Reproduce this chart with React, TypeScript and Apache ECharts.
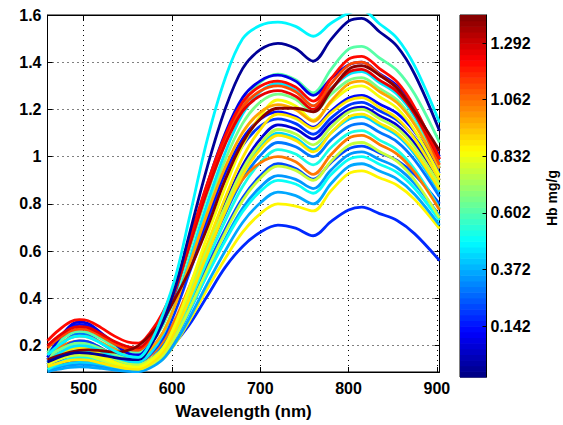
import React, { useEffect, useRef } from 'react';
import * as echarts from 'echarts';

const WAVELENGTHS = [459, 470, 485, 495, 505, 520, 535, 550, 562, 575, 590, 605, 620, 640, 660, 680, 700, 720, 740, 760, 780, 800, 815, 835, 855, 875, 903];

const S_A = [0.16, 0.196, 0.232, 0.24, 0.236, 0.209, 0.177, 0.155, 0.15, 0.207, 0.335, 0.505, 0.746, 1.073, 1.329, 1.499, 1.556, 1.57, 1.552, 1.51, 1.565, 1.608, 1.62, 1.563, 1.501, 1.383, 1.145];
const S_B = [0.13, 0.148, 0.166, 0.17, 0.168, 0.16, 0.149, 0.142, 0.14, 0.194, 0.301, 0.462, 0.676, 0.957, 1.199, 1.373, 1.453, 1.48, 1.458, 1.405, 1.496, 1.574, 1.586, 1.529, 1.467, 1.348, 1.11];
const S_C = [0.17, 0.21, 0.251, 0.26, 0.255, 0.228, 0.197, 0.175, 0.17, 0.205, 0.288, 0.43, 0.607, 0.843, 1.055, 1.22, 1.315, 1.35, 1.326, 1.27, 1.369, 1.455, 1.467, 1.418, 1.365, 1.264, 1.06];
const S_D = [0.22, 0.26, 0.301, 0.31, 0.305, 0.275, 0.24, 0.215, 0.21, 0.254, 0.343, 0.476, 0.654, 0.887, 1.087, 1.231, 1.298, 1.32, 1.295, 1.235, 1.33, 1.413, 1.425, 1.373, 1.316, 1.208, 0.99];
const S_E = [0.19, 0.226, 0.262, 0.27, 0.266, 0.239, 0.207, 0.185, 0.18, 0.225, 0.314, 0.449, 0.628, 0.863, 1.065, 1.21, 1.278, 1.3, 1.275, 1.215, 1.308, 1.388, 1.4, 1.348, 1.291, 1.183, 0.965];
const S_F = [0.14, 0.155, 0.172, 0.18, 0.182, 0.178, 0.172, 0.18, 0.2, 0.245, 0.31, 0.41, 0.52, 0.7, 0.9, 1.06, 1.16, 1.205, 1.205, 1.19, 1.28, 1.37, 1.385, 1.345, 1.29, 1.19, 1.025];
const S_G = [0.13, 0.162, 0.193, 0.2, 0.197, 0.176, 0.151, 0.134, 0.13, 0.165, 0.248, 0.39, 0.567, 0.803, 1.015, 1.18, 1.275, 1.31, 1.282, 1.215, 1.288, 1.348, 1.36, 1.314, 1.264, 1.168, 0.975];
const S_H = [0.15, 0.177, 0.204, 0.21, 0.206, 0.186, 0.161, 0.144, 0.14, 0.174, 0.253, 0.388, 0.556, 0.781, 0.984, 1.141, 1.231, 1.265, 1.243, 1.19, 1.263, 1.323, 1.335, 1.289, 1.24, 1.145, 0.955];
const S_I = [0.12, 0.143, 0.165, 0.17, 0.167, 0.149, 0.128, 0.113, 0.11, 0.133, 0.189, 0.302, 0.449, 0.664, 0.867, 1.048, 1.172, 1.24, 1.215, 1.155, 1.228, 1.288, 1.3, 1.254, 1.205, 1.11, 0.92];
const S_J = [0.14, 0.208, 0.275, 0.29, 0.283, 0.241, 0.192, 0.157, 0.15, 0.181, 0.254, 0.379, 0.535, 0.743, 0.93, 1.076, 1.159, 1.19, 1.17, 1.125, 1.193, 1.248, 1.26, 1.223, 1.183, 1.105, 0.95];
const S_K = [0.12, 0.165, 0.21, 0.22, 0.216, 0.189, 0.157, 0.135, 0.13, 0.161, 0.233, 0.357, 0.511, 0.717, 0.902, 1.047, 1.129, 1.16, 1.14, 1.095, 1.163, 1.218, 1.23, 1.194, 1.155, 1.08, 0.93];
const S_L = [0.11, 0.124, 0.137, 0.14, 0.139, 0.133, 0.126, 0.121, 0.12, 0.14, 0.191, 0.293, 0.425, 0.617, 0.8, 0.962, 1.074, 1.135, 1.117, 1.075, 1.143, 1.198, 1.21, 1.173, 1.133, 1.055, 0.9];
const S_M = [0.16, 0.178, 0.196, 0.2, 0.196, 0.172, 0.144, 0.124, 0.12, 0.14, 0.19, 0.289, 0.419, 0.608, 0.787, 0.946, 1.055, 1.115, 1.096, 1.05, 1.125, 1.188, 1.2, 1.162, 1.12, 1.04, 0.88];
const S_N = [0.1, 0.114, 0.127, 0.13, 0.129, 0.12, 0.11, 0.102, 0.1, 0.12, 0.17, 0.27, 0.4, 0.59, 0.77, 0.93, 1.04, 1.1, 1.079, 1.03, 1.1, 1.158, 1.17, 1.132, 1.09, 1.01, 0.85];
const S_O = [0.14, 0.163, 0.185, 0.19, 0.186, 0.16, 0.13, 0.109, 0.105, 0.125, 0.174, 0.272, 0.401, 0.588, 0.765, 0.923, 1.031, 1.09, 1.069, 1.02, 1.1, 1.168, 1.18, 1.142, 1.1, 1.02, 0.86];
const S_P = [0.13, 0.184, 0.238, 0.25, 0.245, 0.211, 0.173, 0.146, 0.14, 0.158, 0.204, 0.296, 0.416, 0.591, 0.756, 0.904, 1.005, 1.06, 1.042, 1.0, 1.07, 1.128, 1.14, 1.103, 1.063, 0.985, 0.83];
const S_Q = [0.16, 0.187, 0.214, 0.22, 0.216, 0.189, 0.157, 0.135, 0.13, 0.156, 0.217, 0.321, 0.452, 0.626, 0.783, 0.904, 0.974, 1.0, 0.978, 0.925, 1.008, 1.078, 1.09, 1.052, 1.011, 0.933, 0.775];
const S_R = [0.12, 0.138, 0.156, 0.16, 0.157, 0.139, 0.118, 0.103, 0.1, 0.117, 0.16, 0.246, 0.358, 0.521, 0.676, 0.814, 0.908, 0.96, 0.942, 0.9, 0.98, 1.048, 1.06, 1.022, 0.98, 0.9, 0.74];
const S_S = [0.11, 0.133, 0.155, 0.16, 0.158, 0.146, 0.132, 0.122, 0.12, 0.137, 0.18, 0.265, 0.375, 0.537, 0.69, 0.826, 0.919, 0.97, 0.95, 0.905, 0.975, 1.033, 1.045, 1.016, 0.984, 0.923, 0.8];
const S_T = [0.1, 0.109, 0.118, 0.12, 0.119, 0.113, 0.106, 0.101, 0.1, 0.116, 0.157, 0.239, 0.346, 0.502, 0.649, 0.781, 0.871, 0.92, 0.904, 0.865, 0.943, 1.008, 1.02, 0.988, 0.953, 0.885, 0.75];
const S_U = [0.12, 0.147, 0.174, 0.18, 0.177, 0.157, 0.134, 0.118, 0.115, 0.131, 0.17, 0.248, 0.351, 0.5, 0.641, 0.767, 0.853, 0.9, 0.884, 0.845, 0.923, 0.988, 1.0, 0.968, 0.933, 0.865, 0.73];
const S_V = [0.09, 0.099, 0.108, 0.11, 0.109, 0.103, 0.096, 0.091, 0.09, 0.105, 0.143, 0.219, 0.318, 0.462, 0.599, 0.721, 0.804, 0.85, 0.835, 0.8, 0.885, 0.958, 0.97, 0.939, 0.905, 0.84, 0.71];
const S_W = [0.13, 0.144, 0.157, 0.16, 0.157, 0.137, 0.114, 0.098, 0.095, 0.109, 0.144, 0.215, 0.307, 0.44, 0.567, 0.68, 0.758, 0.8, 0.791, 0.77, 0.855, 0.928, 0.94, 0.911, 0.879, 0.818, 0.695];
const S_X = [0.11, 0.124, 0.137, 0.14, 0.139, 0.13, 0.12, 0.112, 0.11, 0.122, 0.146, 0.218, 0.29, 0.41, 0.53, 0.62, 0.68, 0.71, 0.697, 0.665, 0.725, 0.774, 0.786, 0.759, 0.73, 0.673, 0.56];
const S_Y = [0.15, 0.218, 0.285, 0.3, 0.293, 0.253, 0.209, 0.167, 0.16, 0.207, 0.302, 0.444, 0.634, 0.883, 1.096, 1.25, 1.321, 1.345, 1.32, 1.26, 1.33, 1.388, 1.4, 1.352, 1.3, 1.2, 1.0];
const S_Z = [0.2, 0.236, 0.272, 0.28, 0.276, 0.249, 0.217, 0.195, 0.19, 0.234, 0.321, 0.452, 0.626, 0.855, 1.051, 1.193, 1.258, 1.28, 1.256, 1.2, 1.285, 1.358, 1.37, 1.324, 1.275, 1.18, 0.99];
const S_AA = [0.17, 0.202, 0.233, 0.24, 0.236, 0.213, 0.184, 0.159, 0.15, 0.182, 0.257, 0.385, 0.546, 0.76, 0.953, 1.102, 1.188, 1.22, 1.199, 1.15, 1.235, 1.308, 1.32, 1.276, 1.228, 1.135, 0.95];
const S_AB = [0.1, 0.122, 0.145, 0.15, 0.148, 0.136, 0.123, 0.113, 0.11, 0.128, 0.174, 0.266, 0.386, 0.561, 0.726, 0.874, 0.975, 1.03, 1.011, 0.965, 1.038, 1.098, 1.11, 1.07, 1.028, 0.945, 0.78];
const S_AC = [0.11, 0.124, 0.137, 0.14, 0.138, 0.126, 0.112, 0.102, 0.1, 0.122, 0.176, 0.284, 0.424, 0.629, 0.824, 0.996, 1.115, 1.18, 1.162, 1.12, 1.185, 1.238, 1.25, 1.208, 1.163, 1.075, 0.9];

// drawing order (later = on top) and Hb value of each spectrum
const SPECTRA = [S_X, S_W, S_V, S_T, S_N, S_L, S_S, S_P, S_AB, S_U, S_R, S_Q, S_K, S_J, S_AC, S_M, S_O, S_I, S_H, S_G, S_AA, S_C, S_Y, S_E, S_Z, S_D, S_F, S_B, S_A];
const HB_VALUES = [0.17, 0.86, 0.36, 0.34, 0.42, 0.05, 0.22, 0.30, 0.53, 0.50, 0.78, 1.04, 0.20, 0.12, 0.90, 0.76, 0.88, 0.85, 0.66, 0.45, 0.98, 0.62, 0.08, 1.12, 1.26, 1.22, 1.40, -0.03, 0.48];

const X_TICKS = [500, 600, 700, 800, 900];
const Y_TICKS = [0.2, 0.4, 0.6, 0.8, 1.0, 1.2, 1.4, 1.6];
const CB_TICKS = [0.142, 0.372, 0.602, 0.832, 1.062, 1.292];
const CB_MIN = -0.065;
const CB_MAX = 1.406;
const CB_LEVELS = 64;

const FONT = "'Liberation Sans', Arial, Helvetica, sans-serif";

function jet(t: number): string {
  const c = (v: number) => Math.round(255 * Math.max(0, Math.min(1, v)));
  const r = c(1.5 - Math.abs(4 * t - 3));
  const g = c(1.5 - Math.abs(4 * t - 2));
  const b = c(1.5 - Math.abs(4 * t - 1));
  return `rgb(${r},${g},${b})`;
}

function hbColor(hb: number): string {
  const t = (hb - CB_MIN) / (CB_MAX - CB_MIN);
  const idx = Math.max(0, Math.min(CB_LEVELS - 1, Math.floor(t * CB_LEVELS)));
  return jet((idx + 0.5) / CB_LEVELS);
}

export default function App() {
  const ref = useRef<HTMLDivElement>(null);
  useEffect(() => {
    if (!ref.current) return;
    const chart = echarts.init(ref.current, null, { renderer: 'svg' });
    const tickFont = { color: '#000', fontSize: 16, fontWeight: 'bold' as const, fontFamily: FONT };
    const dotted = { show: true, lineStyle: { color: '#000', type: [1, 4] as any, width: 1 } };
    const black = { color: '#000', width: 1 };

    const lineSeries = SPECTRA.map((vals, k) => ({
      type: 'line',
      xAxisIndex: 0,
      yAxisIndex: 0,
      data: WAVELENGTHS.map((w, i) => [w, vals[i]]),
      smooth: 0.35,
      showSymbol: false,
      symbol: 'none',
      silent: true,
      lineStyle: { width: 2.8, color: hbColor(HB_VALUES[k]) },
      z: 3,
    }));

    const step = (CB_MAX - CB_MIN) / CB_LEVELS;
    const bands = Array.from({ length: CB_LEVELS }, (_, i) => [0, CB_MIN + i * step, i]);

    const option: any = {
      animation: false,
      backgroundColor: '#fff',
      grid: [
        { left: 47.5, top: 15, width: 392, height: 359, show: true, borderColor: '#000', borderWidth: 1, backgroundColor: 'rgba(0,0,0,0)' },
        { left: 460, top: 15, width: 26.5, height: 362, show: true, borderColor: '#000', borderWidth: 1, backgroundColor: 'rgba(0,0,0,0)' },
      ],
      xAxis: [
        {
          type: 'value', gridIndex: 0, min: 459, max: 903, position: 'bottom',
          axisLine: { show: true, onZero: false, lineStyle: black },
          axisTick: { show: true, inside: true, length: 5, customValues: X_TICKS, lineStyle: black },
          axisLabel: { customValues: X_TICKS, margin: 8, ...tickFont },
          splitLine: dotted,
          name: 'Wavelength (nm)', nameLocation: 'middle', nameGap: 31,
          nameTextStyle: { color: '#000', fontSize: 17, fontWeight: 'bold', fontFamily: FONT },
        },
        {
          type: 'value', gridIndex: 0, min: 459, max: 903, position: 'top',
          axisLine: { show: true, onZero: false, lineStyle: black },
          axisTick: { show: true, inside: true, length: 5, customValues: X_TICKS, lineStyle: black },
          axisLabel: { show: false },
          splitLine: { show: false },
        },
        { type: 'value', gridIndex: 1, min: 0, max: 1, show: false },
      ],
      yAxis: [
        {
          type: 'value', gridIndex: 0, min: 0.088, max: 1.6, position: 'left',
          axisLine: { show: true, onZero: false, lineStyle: black },
          axisTick: { show: true, inside: true, length: 5, customValues: Y_TICKS, lineStyle: black },
          axisLabel: { customValues: Y_TICKS, margin: 6, formatter: (v: number) => String(Math.round(v * 10) / 10), ...tickFont },
          splitLine: dotted,
        },
        {
          type: 'value', gridIndex: 0, min: 0.088, max: 1.6, position: 'right',
          axisLine: { show: true, onZero: false, lineStyle: black },
          axisTick: { show: true, inside: true, length: 5, customValues: Y_TICKS, lineStyle: black },
          axisLabel: { show: false },
          splitLine: { show: false },
        },
        {
          type: 'value', gridIndex: 1, min: CB_MIN, max: CB_MAX, position: 'right',
          axisLine: { show: true, onZero: false, lineStyle: black },
          axisTick: { show: true, inside: true, length: 4, customValues: CB_TICKS, lineStyle: black },
          axisLabel: { customValues: CB_TICKS, margin: 4, formatter: (v: number) => v.toFixed(3), ...tickFont },
          splitLine: { show: false },
          z: 5,
        },
      ],
      series: [
        ...lineSeries,
        {
          type: 'custom',
          xAxisIndex: 2,
          yAxisIndex: 2,
          silent: true,
          data: bands,
          renderItem: (params: any, api: any) => {
            const lo = api.value(1);
            const i = api.value(2);
            const p0 = api.coord([0, lo]);
            const p1 = api.coord([1, lo + step]);
            return {
              type: 'rect',
              shape: { x: p0[0], y: p1[1], width: p1[0] - p0[0], height: p0[1] - p1[1] + 0.6 },
              style: { fill: jet((i + 0.5) / CB_LEVELS) },
            };
          },
          z: 1,
        },
      ],
      graphic: [
        {
          type: 'text',
          x: 552,
          y: 198,
          rotation: Math.PI / 2,
          style: {
            text: 'Hb mg/g',
            fill: '#000',
            font: `bold 14px ${FONT}`,
            textAlign: 'center',
            textVerticalAlign: 'middle',
          },
        },
      ],
    };
    chart.setOption(option);
    return () => chart.dispose();
  }, []);
  return <div ref={ref} style={{ position: 'absolute', left: 0, top: 0, width: 563, height: 425 }} />;
}
